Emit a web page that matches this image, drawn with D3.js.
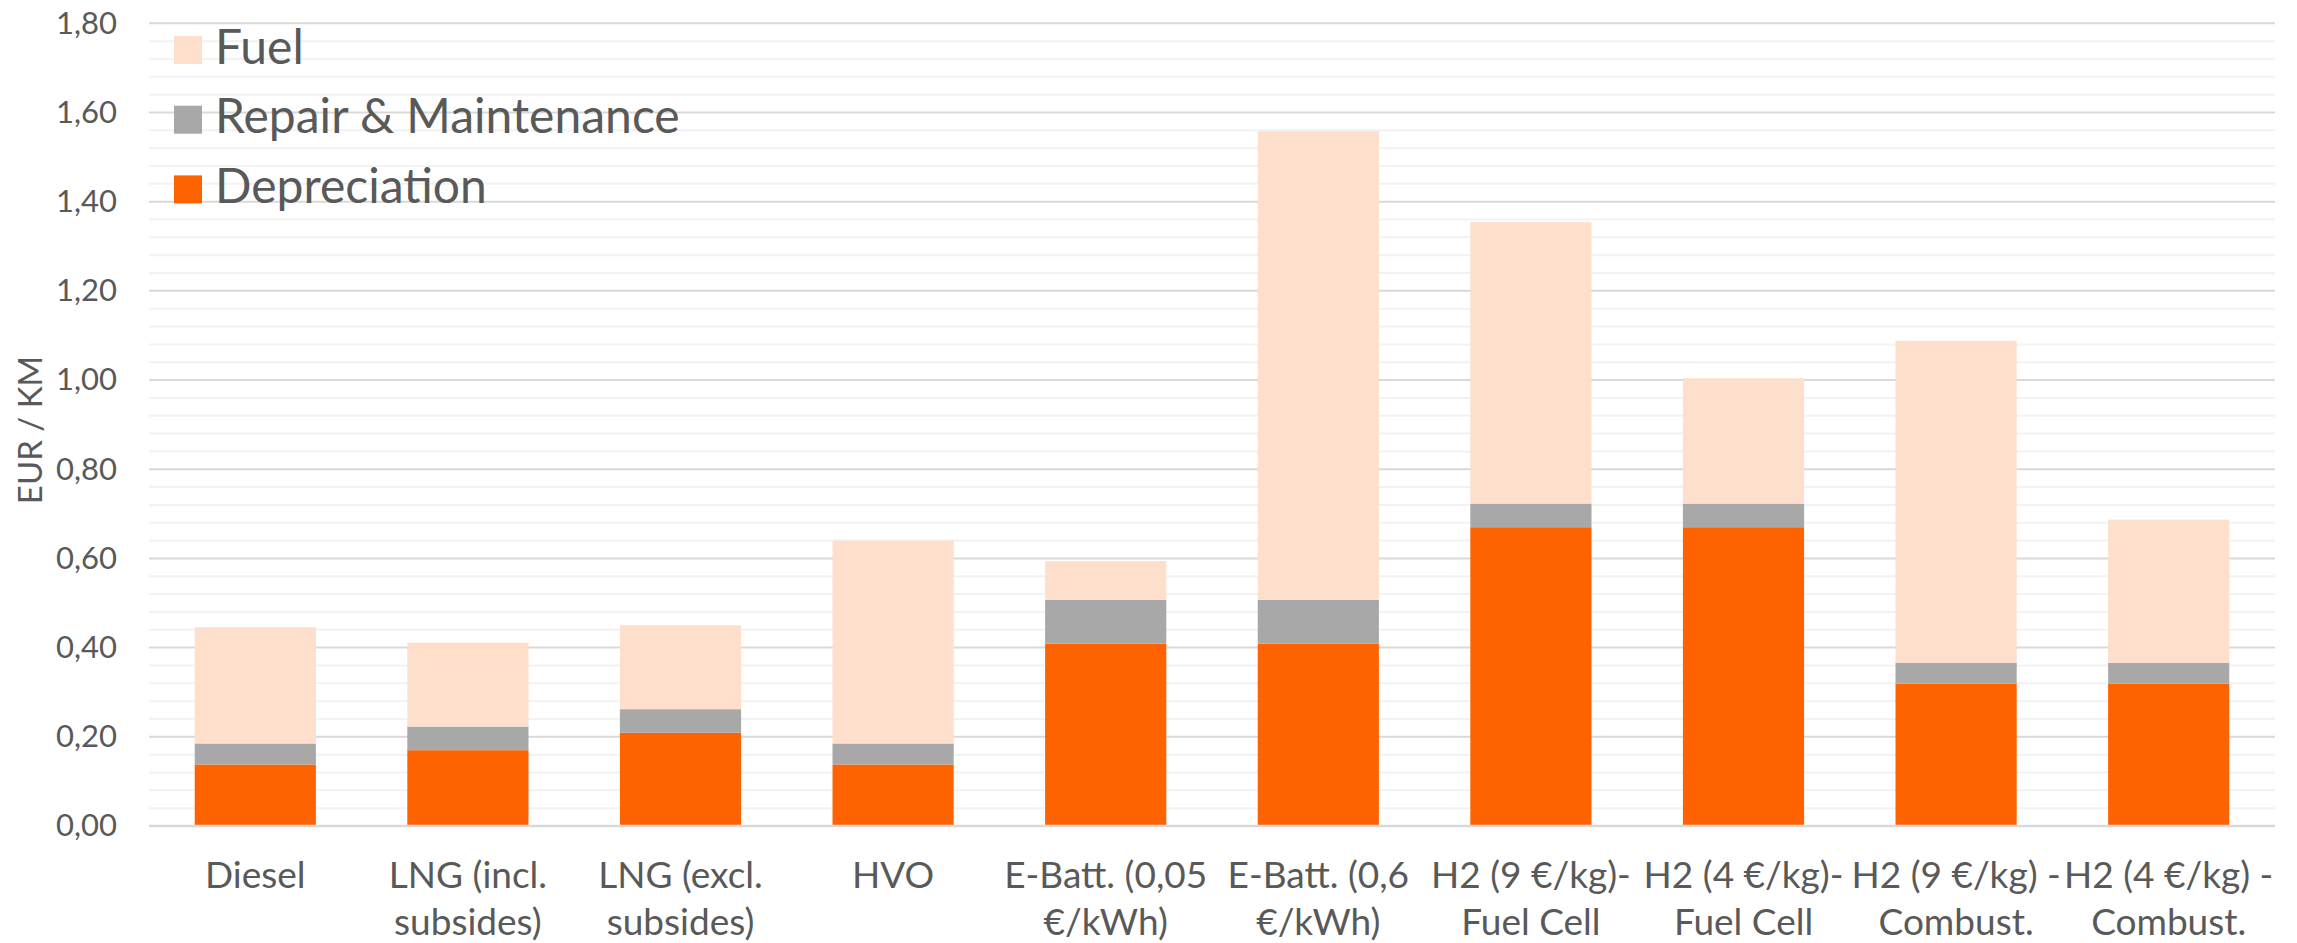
<!DOCTYPE html>
<html>
<head>
<meta charset="utf-8">
<script src="https://cdn.jsdelivr.net/npm/d3@7"></script>
<style>
  html, body { margin: 0; padding: 0; background: #ffffff; }
  svg { display: block; }
  text { font-family: Lato, "Open Sans", sans-serif; fill: #595959; }
</style>
</head>
<body>
<svg id="chart" width="2297" height="943"></svg>
<script>
// Cost per km by drivetrain, split into depreciation, repair & maintenance and fuel
const categories = [
  "Diesel",
  "LNG (incl.\nsubsides)",
  "LNG (excl.\nsubsides)",
  "HVO",
  "E-Batt. (0,05\n€/kWh)",
  "E-Batt. (0,6\n€/kWh)",
  "H2 (9 €/kg)-\nFuel Cell",
  "H2 (4 €/kg)-\nFuel Cell",
  "H2 (9 €/kg) -\nCombust.",
  "H2 (4 €/kg) -\nCombust."
];
const depreciation = [0.138, 0.170, 0.209, 0.138, 0.409, 0.409, 0.670, 0.670, 0.319, 0.319];
const repairMaintenance = [0.047, 0.053, 0.053, 0.047, 0.098, 0.098, 0.053, 0.053, 0.047, 0.047];
const fuel = [0.261, 0.188, 0.188, 0.455, 0.087, 1.051, 0.631, 0.281, 0.722, 0.321];

const seriesNames = ["Depreciation", "Repair & Maintenance", "Fuel"];
const seriesColors = ["#ff6200", "#a8a8a8", "#fddfcc"];
const yTicks = [0, 0.2, 0.4, 0.6, 0.8, 1.0, 1.2, 1.4, 1.6, 1.8];
const yMax = 1.8;
const yMinorStep = 0.04;

const rows = categories.map((c, i) => ({
  category: c,
  "Depreciation": depreciation[i],
  "Repair & Maintenance": repairMaintenance[i],
  "Fuel": fuel[i]
}));

const svg = d3.select("#chart");
const plotLeft = 149, plotRight = 2275, plotTop = 23.3, plotBottom = 826;

const x = d3.scaleBand()
  .domain(categories)
  .range([plotLeft, plotRight])
  .paddingInner(0.43)
  .paddingOuter(0.215);

const y = d3.scaleLinear().domain([0, yMax]).range([plotBottom, plotTop]);

const comma = d3.formatLocale({ decimal: ",", thousands: ".", grouping: [3], currency: ["", "€"] }).format(".2f");

// minor gridlines
const minor = d3.range(0, yMax + 1e-9, yMinorStep).filter(v => !yTicks.some(t => Math.abs(t - v) < 1e-6));
svg.append("g").selectAll("line").data(minor).join("line")
  .attr("x1", plotLeft).attr("x2", plotRight)
  .attr("y1", d => y(d)).attr("y2", d => y(d))
  .attr("stroke", "#f2f2f2").attr("stroke-width", 2);

// major gridlines
svg.append("g").selectAll("line").data(yTicks).join("line")
  .attr("x1", plotLeft).attr("x2", plotRight)
  .attr("y1", d => y(d)).attr("y2", d => y(d))
  .attr("stroke", "#d9d9d9").attr("stroke-width", 2);

// y axis labels
const yAxis = d3.axisLeft(y).tickValues(yTicks).tickFormat(comma).tickSize(0).tickPadding(0);
const gy = svg.append("g").attr("transform", `translate(117,0)`).call(yAxis);
gy.select(".domain").remove();
gy.selectAll("text")
  .attr("font-size", 31)
  .attr("fill", "#595959")
  .style("font-family", "Lato, sans-serif");

// axis title
svg.append("text")
  .attr("transform", "translate(42,430) rotate(-90)")
  .attr("text-anchor", "middle")
  .attr("font-size", 33)
  .text("EUR / KM");

// stacked bars
const stacked = d3.stack().keys(seriesNames)(rows);
svg.append("g").selectAll("g").data(stacked).join("g")
  .attr("fill", (d, i) => seriesColors[i])
  .selectAll("rect").data(d => d).join("rect")
  .attr("x", d => x(d.data.category))
  .attr("width", x.bandwidth())
  .attr("y", d => y(d[1]))
  .attr("height", d => y(d[0]) - y(d[1]));

// baseline
svg.append("line")
  .attr("x1", plotLeft).attr("x2", plotRight)
  .attr("y1", y(0)).attr("y2", y(0))
  .attr("stroke", "#d9d9d9").attr("stroke-width", 2.5);

// category labels
const xAxis = d3.axisBottom(x).tickSize(0).tickFormat("");
const gx = svg.append("g").attr("transform", `translate(0,${plotBottom})`).call(xAxis);
gx.select(".domain").remove();
gx.selectAll(".tick").each(function(d) {
  const t = d3.select(this).append("text")
    .attr("text-anchor", "middle")
    .attr("font-size", 37)
    .attr("fill", "#595959")
    .style("font-family", "Lato, sans-serif");
  d.split("\n").forEach((line, j) => {
    t.append("tspan").attr("x", 0).attr("y", 62 + j * 47).text(line);
  });
});

// legend
const legendItems = ["Fuel", "Repair & Maintenance", "Depreciation"];
const legend = svg.append("g").selectAll("g").data(legendItems).join("g")
  .attr("transform", (d, i) => `translate(174,${36 + i * 69.7})`);
legend.append("rect")
  .attr("width", 28).attr("height", 28)
  .attr("fill", d => seriesColors[seriesNames.indexOf(d)]);
legend.append("text")
  .attr("x", 41).attr("y", 27.5)
  .attr("font-size", 48)
  .text(d => d);
</script>
</body>
</html>
